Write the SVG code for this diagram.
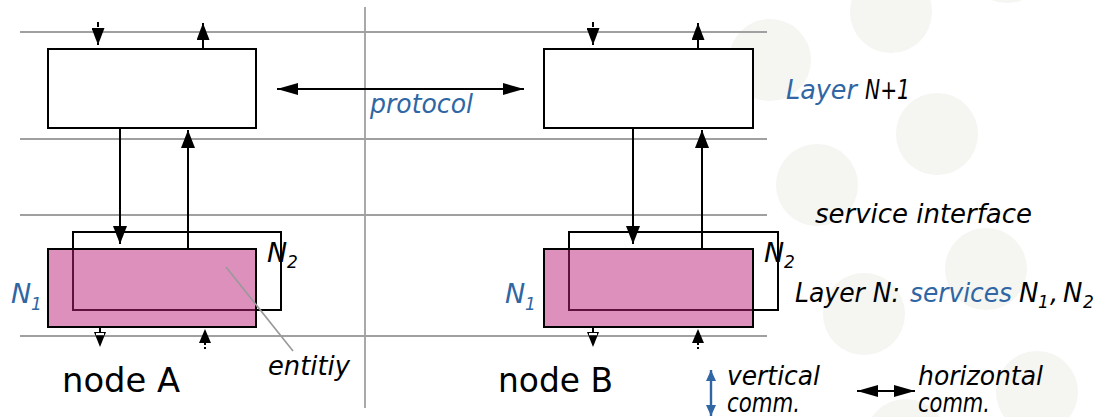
<svg xmlns="http://www.w3.org/2000/svg" width="1102" height="417" viewBox="0 0 1102 417">
  <style>
    .bubble { fill: #f5f5f2; }
    .rule { stroke: #a0a0a0; stroke-width: 1.8; fill: none; }
    .box { fill: #ffffff; stroke: #000000; stroke-width: 2; }
    .entity { fill: #bd2179; fill-opacity: 0.5; stroke: none; }
    .frame { fill: none; stroke: #000000; stroke-width: 2; }
    .link { stroke: #000000; stroke-width: 2; fill: none; }
    .head { fill: #000000; }
    .t { font-family: "DejaVu Sans", "Liberation Sans", sans-serif; fill: #000000; }
    .it { font-style: italic; }
    .blue { fill: #2f66a3; }
    .lbl { font-size: 26px; }
    .sym { font-size: 27px; }
    .sub { font-size: 17px; }
    .node { font-size: 33px; }
  </style>
  <defs>
    <marker id="arrow" markerUnits="userSpaceOnUse" markerWidth="18" markerHeight="14" viewBox="0 0 18 14" refX="18" refY="7" orient="auto-start-reverse">
      <path d="M0,0 L18,7 L0,14 z" fill="#000"/>
    </marker>
    <marker id="arrow-proto" markerUnits="userSpaceOnUse" markerWidth="21" markerHeight="12" viewBox="0 0 21 12" refX="21" refY="6" orient="auto-start-reverse">
      <path d="M0,0 L21,6 L0,12 z" fill="#000"/>
    </marker>
    <marker id="arrow-small" markerUnits="userSpaceOnUse" markerWidth="17" markerHeight="13" viewBox="0 0 17 13" refX="17" refY="6.5" orient="auto-start-reverse">
      <path d="M0,0 L17,6.5 L0,13 z" fill="#000"/>
    </marker>
    <marker id="arrow-blue" markerUnits="userSpaceOnUse" markerWidth="11" markerHeight="10" viewBox="0 0 11 10" refX="11" refY="5" orient="auto-start-reverse">
      <path d="M0,0 L11,5 L0,10 z" fill="#2f66a3"/>
    </marker>
  </defs>

  <rect width="1102" height="417" fill="#ffffff"/>

  <!-- soft background bubbles -->
  <g id="background">
    <circle class="bubble" cx="770" cy="60" r="41"/>
    <circle class="bubble" cx="891" cy="12" r="41"/>
    <circle class="bubble" cx="1007" cy="-39" r="42"/>
    <circle class="bubble" cx="937" cy="134" r="41"/>
    <circle class="bubble" cx="817" cy="185" r="41"/>
    <circle class="bubble" cx="986" cy="269" r="41"/>
    <circle class="bubble" cx="864" cy="314" r="41"/>
    <circle class="bubble" cx="1037" cy="392" r="41"/>
    <circle class="bubble" cx="906" cy="440" r="41"/>
  </g>

  <!-- layer boundaries and node separator -->
  <g id="grid">
    <line class="rule" x1="20" y1="32" x2="767" y2="32"/>
    <line class="rule" x1="20" y1="139" x2="767" y2="139"/>
    <line class="rule" x1="20" y1="215" x2="767" y2="215"/>
    <line class="rule" x1="20" y1="336" x2="767" y2="336"/>
    <line class="rule" x1="365" y1="7" x2="365" y2="408"/>
  </g>

  <g id="nodeA-upper">
    <rect class="box" x="48" y="49" width="208" height="79"/>
  </g>
  <g id="nodeB-upper">
    <rect class="box" x="544" y="49" width="209" height="79"/>
  </g>

  <g id="nodeA-lower">
    <rect class="frame" x="73" y="232" width="208" height="78"/>
    <rect class="entity" x="48" y="249" width="208" height="78"/>
    <rect class="frame" x="48" y="249" width="208" height="78"/>
  </g>
  <g id="nodeB-lower">
    <rect class="frame" x="569" y="232" width="209" height="78"/>
    <rect class="entity" x="544" y="249" width="209" height="78"/>
    <rect class="frame" x="544" y="249" width="209" height="78"/>
  </g>

  <g id="connectors">
    <!-- vertical service calls, node A -->
    <line class="link" x1="120" y1="128" x2="120" y2="244" marker-end="url(#arrow)"/>
    <line class="link" x1="188" y1="249" x2="188" y2="130" marker-end="url(#arrow)"/>
    <!-- vertical service calls, node B -->
    <line class="link" x1="633" y1="128" x2="633" y2="244" marker-end="url(#arrow)"/>
    <line class="link" x1="702" y1="249" x2="702" y2="130" marker-end="url(#arrow)"/>

    <!-- peer protocol -->
    <line class="link" x1="277" y1="89" x2="524" y2="89" marker-start="url(#arrow-proto)" marker-end="url(#arrow-proto)"/>

    <!-- stubs to the layer above -->
    <line class="link" x1="98" y1="22" x2="98" y2="45" stroke-dasharray="5 2" marker-end="url(#arrow-small)"/>
    <line class="link" x1="203" y1="49" x2="203" y2="23" marker-end="url(#arrow-small)"/>
    <line class="link" x1="593" y1="22" x2="593" y2="45" stroke-dasharray="5 2" marker-end="url(#arrow-small)"/>
    <line class="link" x1="698" y1="49" x2="698" y2="23" marker-end="url(#arrow-small)"/>

    <!-- stubs to the layer below -->
    <line class="link" x1="100" y1="327" x2="100" y2="333" stroke-width="1.5"/>
    <path class="head" d="M94,332 L106,332 L100,347 z"/>
    <rect x="96" y="333" width="8" height="2.2" fill="#ffffff"/>
    <path class="head" d="M205,329 L211,343 L199,343 z"/>
    <line class="link" x1="205" y1="342" x2="205" y2="349" stroke-dasharray="3 2"/>

    <line class="link" x1="593" y1="327" x2="593" y2="333" stroke-width="1.5"/>
    <path class="head" d="M587,332 L599,332 L593,347 z"/>
    <rect x="589" y="333" width="8" height="2.2" fill="#ffffff"/>
    <path class="head" d="M698,329 L704,343 L692,343 z"/>
    <line class="link" x1="698" y1="342" x2="698" y2="349" stroke-dasharray="3 2"/>

    <!-- entity pointer -->
    <line x1="226" y1="267" x2="293" y2="351" stroke="#999999" stroke-width="1.6"/>

    <!-- legend arrows -->
    <line x1="711" y1="370" x2="711" y2="416" stroke="#2f66a3" stroke-width="2.4" marker-start="url(#arrow-blue)" marker-end="url(#arrow-blue)"/>
    <line class="link" x1="857" y1="391" x2="915" y2="391" marker-start="url(#arrow-proto)" marker-end="url(#arrow-proto)"/>
  </g>

  <g id="labels">
    <text class="t it blue lbl" x="370" y="113" textLength="103" lengthAdjust="spacingAndGlyphs">protocol</text>

    <text class="t it blue lbl" x="786" y="99" textLength="71" lengthAdjust="spacingAndGlyphs">Layer</text>
    <text class="t it lbl" x="865" y="99" textLength="45" lengthAdjust="spacingAndGlyphs">N+1</text>

    <text class="t it lbl" x="815" y="223" textLength="217" lengthAdjust="spacingAndGlyphs">service interface</text>

    <text class="t it lbl" x="795" y="302" textLength="105" lengthAdjust="spacingAndGlyphs">Layer N:</text>
    <text class="t it blue lbl" x="910" y="302" textLength="102" lengthAdjust="spacingAndGlyphs">services</text>
    <text class="t it lbl" x="1019" y="302">N</text>
    <text class="t it sub" x="1038" y="308">1</text>
    <text class="t it lbl" x="1050" y="302">,</text>
    <text class="t it lbl" x="1063" y="302">N</text>
    <text class="t it sub" x="1083" y="308">2</text>

    <text class="t it sym" x="11" y="303" style="fill:#2f66a3">N</text>
    <text class="t it sub" x="31" y="310" style="fill:#2f66a3">1</text>
    <text class="t it sym" x="267" y="262">N</text>
    <text class="t it sub" x="287" y="268">2</text>

    <text class="t it sym" x="505" y="303" style="fill:#2f66a3">N</text>
    <text class="t it sub" x="525" y="310" style="fill:#2f66a3">1</text>
    <text class="t it sym" x="764" y="262">N</text>
    <text class="t it sub" x="784" y="268">2</text>

    <text class="t it lbl" x="268" y="375" textLength="82" lengthAdjust="spacingAndGlyphs">entitiy</text>

    <text class="t node" x="62" y="392" textLength="118" lengthAdjust="spacingAndGlyphs">node A</text>
    <text class="t node" x="498" y="392" textLength="115" lengthAdjust="spacingAndGlyphs">node B</text>

    <text class="t it lbl" x="727" y="385" textLength="93" lengthAdjust="spacingAndGlyphs">vertical</text>
    <text class="t it lbl" x="727" y="412" textLength="73" lengthAdjust="spacingAndGlyphs">comm.</text>
    <text class="t it lbl" x="918" y="385" textLength="125" lengthAdjust="spacingAndGlyphs">horizontal</text>
    <text class="t it lbl" x="918" y="412" textLength="72" lengthAdjust="spacingAndGlyphs">comm.</text>
  </g>
</svg>
